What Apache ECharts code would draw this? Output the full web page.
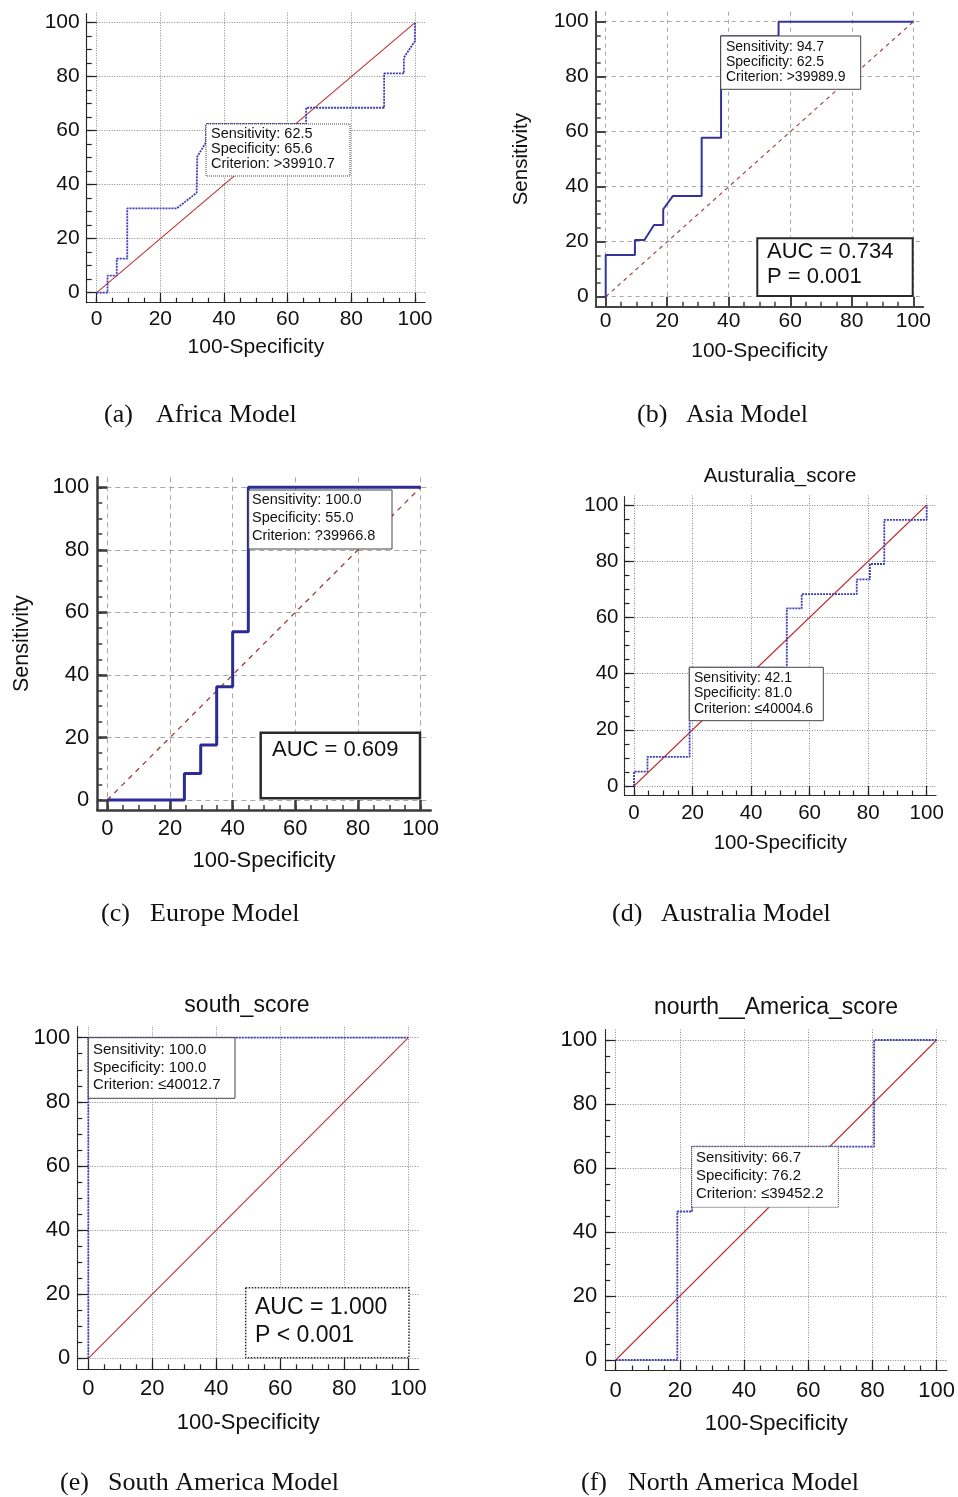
<!DOCTYPE html>
<html>
<head>
<meta charset="utf-8">
<script src="https://cdn.jsdelivr.net/npm/echarts@6/dist/echarts.min.js"></script>
<style>
html,body{margin:0;padding:0;background:#fff;}
#chart{width:958px;height:1497px;}
</style>
</head>
<body>
<div id="chart"></div>
<script>
// ---------- data ----------
const tickLabels = [0, 20, 40, 60, 80, 100];
const minorTicks = [0, 5, 10, 15, 20, 25, 30, 35, 40, 45, 50, 55, 60, 65, 70, 75, 80, 85, 90, 95, 100];
const diagX = [0, 100];
const diagY = [0, 100];

const africaX = [0, 3.4, 3.4, 6.3, 6.3, 9.6, 9.6, 25.1, 31.4, 31.6, 34.3, 34.4, 65.8, 65.8, 90.3, 90.3, 96.5, 96.5, 100, 100];
const africaY = [0, 0, 6.3, 6.3, 12.6, 12.6, 31.2, 31.2, 37.0, 50.4, 55.6, 62.5, 62.5, 68.5, 68.5, 81.2, 81.2, 87.0, 93.2, 100];

const asiaX = [0, 0, 9.5, 9.5, 12.6, 15.7, 18.7, 18.7, 21.8, 31.2, 31.2, 37.5, 37.5, 56.2, 56.2, 100];
const asiaY = [0, 15.2, 15.2, 20.6, 20.6, 26.1, 26.1, 31.8, 36.6, 36.6, 57.8, 57.8, 94.7, 94.7, 100, 100];

const europeX = [0, 24.6, 24.6, 29.8, 29.8, 34.9, 34.9, 40.0, 40.0, 45.0, 45.0, 100];
const europeY = [0, 0, 8.5, 8.5, 17.6, 17.6, 36.2, 36.2, 53.8, 53.8, 100, 100];

const australiaX = [0, 0, 4.6, 4.6, 19.0, 19.0, 52.2, 52.2, 57.3, 57.3, 76.1, 76.1, 80.6, 80.6, 85.5, 85.5, 100, 100];
const australiaY = [0, 5.1, 5.1, 10.4, 10.4, 42.1, 42.1, 63.2, 63.2, 68.3, 68.3, 73.5, 73.5, 79.0, 79.0, 94.7, 94.7, 100];

const southX = [0, 0, 100];
const southY = [0, 100, 100];

const northX = [0, 19.2, 19.2, 23.8, 23.8, 80.5, 80.5, 100];
const northY = [0, 0, 46.4, 46.4, 66.7, 66.7, 100, 100];

const xName = '100-Specificity';
const yName = 'Sensitivity';

const boxTexts = {
  a: ['Sensitivity: 62.5', 'Specificity: 65.6', 'Criterion: >39910.7'],
  b: ['Sensitivity: 94.7', 'Specificity: 62.5', 'Criterion: >39989.9'],
  c: ['Sensitivity: 100.0', 'Specificity: 55.0', 'Criterion: ?39966.8'],
  d: ['Sensitivity: 42.1', 'Specificity: 81.0', 'Criterion: \u226440004.6'],
  e: ['Sensitivity: 100.0', 'Specificity: 100.0', 'Criterion: \u226440012.7'],
  f: ['Sensitivity: 66.7', 'Specificity: 76.2', 'Criterion: \u226439452.2']
};
const aucTexts = {
  b: ['AUC = 0.734', 'P = 0.001'],
  c: ['AUC = 0.609'],
  e: ['AUC = 1.000', 'P < 0.001']
};
const panelTitles = { d: 'Austuralia_score', e: 'south_score', f: 'nourth__America_score' };
const captions = {
  a: ['(a)', 'Africa Model'], b: ['(b)', 'Asia Model'],
  c: ['(c)', 'Europe Model'], d: ['(d)', 'Australia Model'],
  e: ['(e)', 'South America Model'], f: ['(f)', 'North America Model']
};

// ---------- layout / style ----------
const SANS = '"Liberation Sans", Arial, sans-serif';
const SERIF = '"Liberation Serif", "Times New Roman", serif';
const DOT_CURVE = [2, 1];

const panels = [
  { key: 'a', xs: africaX, ys: africaY, X0: 96.7, X100: 415, Y0: 292.7, Y100: 22.7, pad: 10,
    axisColor: '#222', axisWidth: 1.2, axisType: [1.5, 1], gridColor: '#8a8a8a', gridType: [1, 1.5],
    curveColor: '#3c3cb4', curveWidth: 1.8, curveType: DOT_CURVE, diagColor: '#c03030', diagWidth: 1.1, diagType: 'solid',
    fs: 21, nameGap: 34, xMargin: 6, yMargin: 7, yName: false },
  { key: 'b', xs: asiaX, ys: asiaY, X0: 605.7, X100: 913.3, Y0: 296.7, Y100: 21.7, pad: 10,
    axisColor: '#444', axisWidth: 2, axisType: 'solid', gridColor: '#a8a8a8', gridType: [4, 4],
    curveColor: '#34349a', curveWidth: 2, curveType: 'solid', diagColor: '#a04848', diagWidth: 1.2, diagType: [4, 4],
    fs: 21, nameGap: 34, xMargin: 4, yMargin: 7, yName: true, yNameGap: 64 },
  { key: 'c', xs: europeX, ys: europeY, X0: 107.3, X100: 420.7, Y0: 800, Y100: 487.3, pad: 10,
    axisColor: '#3a3a3a', axisWidth: 2.5, axisType: 'solid', gridColor: '#a8a8a8', gridType: [5, 4],
    curveColor: '#2c2c94', curveWidth: 3, curveType: 'solid', diagColor: '#a03a3a', diagWidth: 1.3, diagType: [5, 5],
    fs: 22, nameGap: 40, xMargin: 8, yMargin: 8, yName: true, yNameGap: 64 },
  { key: 'd', xs: australiaX, ys: australiaY, X0: 634, X100: 926.7, Y0: 786, Y100: 505, pad: 9.5,
    axisColor: '#222', axisWidth: 1.2, axisType: [1.5, 1], gridColor: '#8a8a8a', gridType: [1, 1.5],
    curveColor: '#3c3cb4', curveWidth: 1.8, curveType: DOT_CURVE, diagColor: '#c03030', diagWidth: 1.1, diagType: 'solid',
    fs: 20.5, nameGap: 37, xMargin: 7, yMargin: 6, yName: false },
  { key: 'e', xs: southX, ys: southY, X0: 88.3, X100: 408.3, Y0: 1358.3, Y100: 1037.7, pad: 11,
    axisColor: '#222', axisWidth: 1.2, axisType: [1.5, 1], gridColor: '#8a8a8a', gridType: [1, 1.5],
    curveColor: '#3c3cb4', curveWidth: 1.8, curveType: DOT_CURVE, diagColor: '#c03030', diagWidth: 1.1, diagType: 'solid',
    fs: 22, nameGap: 43, xMargin: 9, yMargin: 7, yName: false },
  { key: 'f', xs: northX, ys: northY, X0: 615.7, X100: 936.7, Y0: 1360, Y100: 1040, pad: 10.5,
    axisColor: '#222', axisWidth: 1.2, axisType: [1.5, 1], gridColor: '#8a8a8a', gridType: [1, 1.5],
    curveColor: '#3c3cb4', curveWidth: 1.8, curveType: DOT_CURVE, diagColor: '#c03030', diagWidth: 1.1, diagType: 'solid',
    fs: 22, nameGap: 42, xMargin: 9, yMargin: 8, yName: false }
];

// annotation boxes: [left, top, width, height, firstLineCenterY, lineHeight, fontSize, textX, borderType]
const boxLayout = {
  a: [206, 124, 144, 52, 134, 15, 14.5, 211, 'dotted'],
  b: [720.7, 36, 140, 53.3, 47, 15, 14, 726, 'solid'],
  c: [248.7, 490, 143.3, 59, 500, 18, 14.5, 252, 'solid'],
  d: [689.3, 667.3, 134, 53.4, 678, 15.5, 14, 694, 'solid'],
  e: [88.3, 1037.7, 146.7, 60.6, 1050, 17.5, 15, 93, 'solid'],
  f: [691.7, 1146.7, 146.6, 60.6, 1158, 18, 15, 696, 'dotted']
};
// [left, top, width, height, firstLineCenterY, lineHeight, fontSize, textX, borderWidth, borderType]
const aucLayout = {
  b: [757.3, 238.3, 155.4, 57.7, 252, 25, 22, 767, 2, 'solid'],
  c: [260.7, 732.7, 159.3, 65.6, 750, 25, 22, 272, 2.5, 'solid'],
  e: [245.7, 1287.7, 163.3, 70, 1308, 28, 23, 255, 1.5, 'dotted']
};
const titleLayout = { d: [780, 476, 20.5], e: [247, 1006, 23], f: [776, 1008, 23] };
const captionLayout = {
  a: [104, 156, 415], b: [637, 686, 415],
  c: [101, 150, 914], d: [612, 661, 914],
  e: [60, 108, 1483], f: [581, 628, 1483]
};

const grids = [], xAxes = [], yAxes = [], series = [], graphics = [];

panels.forEach((p, i) => {
  const sx = (p.X100 - p.X0) / 100;
  const sy = (p.Y0 - p.Y100) / 100;
  const left = p.X0 - p.pad, right = p.X100 + p.pad;
  const top = p.Y100 - p.pad, bottom = p.Y0 + p.pad;
  grids.push({ left: left, top: top, width: right - left, height: bottom - top,
    containLabel: false, outerBoundsMode: 'none' });
  const xMin = -p.pad / sx, xMax = 100 + p.pad / sx;
  const yMin = -p.pad / sy, yMax = 100 + p.pad / sy;
  const txt = { fontFamily: SANS, fontSize: p.fs, color: '#111' };

  xAxes.push({
    gridIndex: i, type: 'value', min: xMin, max: xMax, position: 'bottom',
    axisLine: { show: true, onZero: false, lineStyle: { color: p.axisColor, width: p.axisWidth, type: p.axisType } },
    axisTick: { show: true, inside: true, length: 5, customValues: minorTicks, lineStyle: { color: p.axisColor, width: Math.min(p.axisWidth, 1.5) } },
    axisLabel: { show: true, customValues: tickLabels, margin: p.xMargin, ...txt },
    splitLine: { show: false },
    name: xName, nameLocation: 'middle', nameGap: p.nameGap, nameTextStyle: { ...txt }
  });
  xAxes.push({
    gridIndex: i, type: 'value', min: xMin, max: xMax, position: 'bottom',
    axisLine: { show: false, onZero: false },
    axisTick: { show: true, inside: true, length: p.pad, customValues: tickLabels, lineStyle: { color: p.axisColor, width: p.axisWidth } },
    axisLabel: { show: false },
    splitLine: { show: true, lineStyle: { color: p.gridColor, width: 1, type: p.gridType } }
  });
  yAxes.push({
    gridIndex: i, type: 'value', min: yMin, max: yMax, position: 'left',
    axisLine: { show: true, onZero: false, lineStyle: { color: p.axisColor, width: p.axisWidth, type: p.axisType } },
    axisTick: { show: true, inside: true, length: 5, customValues: minorTicks, lineStyle: { color: p.axisColor, width: Math.min(p.axisWidth, 1.5) } },
    axisLabel: { show: true, customValues: tickLabels, margin: p.yMargin, ...txt },
    splitLine: { show: false },
    name: p.yName ? yName : '', nameLocation: 'middle', nameGap: p.yNameGap || 50,
    nameTextStyle: { ...txt, fontSize: p.fs - 0.5 }
  });
  yAxes.push({
    gridIndex: i, type: 'value', min: yMin, max: yMax, position: 'left',
    axisLine: { show: false, onZero: false },
    axisTick: { show: true, inside: true, length: p.pad, customValues: tickLabels, lineStyle: { color: p.axisColor, width: p.axisWidth } },
    axisLabel: { show: false },
    splitLine: { show: true, lineStyle: { color: p.gridColor, width: 1, type: p.gridType } }
  });

  series.push({
    type: 'line', xAxisIndex: 2 * i, yAxisIndex: 2 * i, silent: true, symbol: 'none', z: 3,
    data: diagX.map((x, k) => [x, diagY[k]]),
    lineStyle: { color: p.diagColor, width: p.diagWidth, type: p.diagType }
  });
  series.push({
    type: 'line', xAxisIndex: 2 * i, yAxisIndex: 2 * i, silent: true, symbol: 'none', z: 4,
    data: p.xs.map((x, k) => [x, p.ys[k]]),
    lineStyle: { color: p.curveColor, width: p.curveWidth, type: p.curveType }
  });

  // annotation box
  const b = boxLayout[p.key];
  graphics.push({
    type: 'rect', z: 100, shape: { x: b[0], y: b[1], width: b[2], height: b[3] },
    style: { fill: '#fff', stroke: '#444', lineWidth: 1, lineDash: b[8] === 'dotted' ? [1, 1] : null }
  });
  graphics.push({
    type: 'text', z: 101, x: b[7], y: b[4] - b[5] / 2,
    style: { text: boxTexts[p.key].join('\n'), fill: '#111', font: b[6] + 'px ' + SANS,
      lineHeight: b[5], align: 'left', verticalAlign: 'top', textAlign: 'left', textVerticalAlign: 'top' }
  });
  const a = aucLayout[p.key];
  if (a) {
    graphics.push({
      type: 'rect', z: 100, shape: { x: a[0], y: a[1], width: a[2], height: a[3] },
      style: { fill: '#fff', stroke: '#2a2a2a', lineWidth: a[8], lineDash: a[9] === 'dotted' ? [1.5, 1.5] : null }
    });
    graphics.push({
      type: 'text', z: 101, x: a[7], y: a[4] - a[5] / 2,
      style: { text: aucTexts[p.key].join('\n'), fill: '#111', font: a[6] + 'px ' + SANS,
        lineHeight: a[5], align: 'left', verticalAlign: 'top', textAlign: 'left', textVerticalAlign: 'top' }
    });
  }
  const t = titleLayout[p.key];
  if (t) {
    graphics.push({
      type: 'text', z: 101, x: t[0], y: t[1],
      style: { text: panelTitles[p.key], fill: '#111', font: t[2] + 'px ' + SANS,
        align: 'center', verticalAlign: 'middle', textAlign: 'center', textVerticalAlign: 'middle' }
    });
  }
  const c = captionLayout[p.key];
  graphics.push({
    type: 'text', z: 101, x: c[0], y: c[2],
    style: { text: captions[p.key][0], fill: '#111', font: '26px ' + SERIF,
      align: 'left', verticalAlign: 'middle', textAlign: 'left', textVerticalAlign: 'middle' }
  });
  graphics.push({
    type: 'text', z: 101, x: c[1], y: c[2],
    style: { text: captions[p.key][1], fill: '#111', font: '26px ' + SERIF,
      align: 'left', verticalAlign: 'middle', textAlign: 'left', textVerticalAlign: 'middle' }
  });
});

const chart = echarts.init(document.getElementById('chart'), null, { renderer: 'canvas' });
chart.setOption({
  backgroundColor: '#ffffff',
  animation: false,
  grid: grids,
  xAxis: xAxes,
  yAxis: yAxes,
  series: series,
  graphic: { elements: graphics }
});
</script>
</body>
</html>
